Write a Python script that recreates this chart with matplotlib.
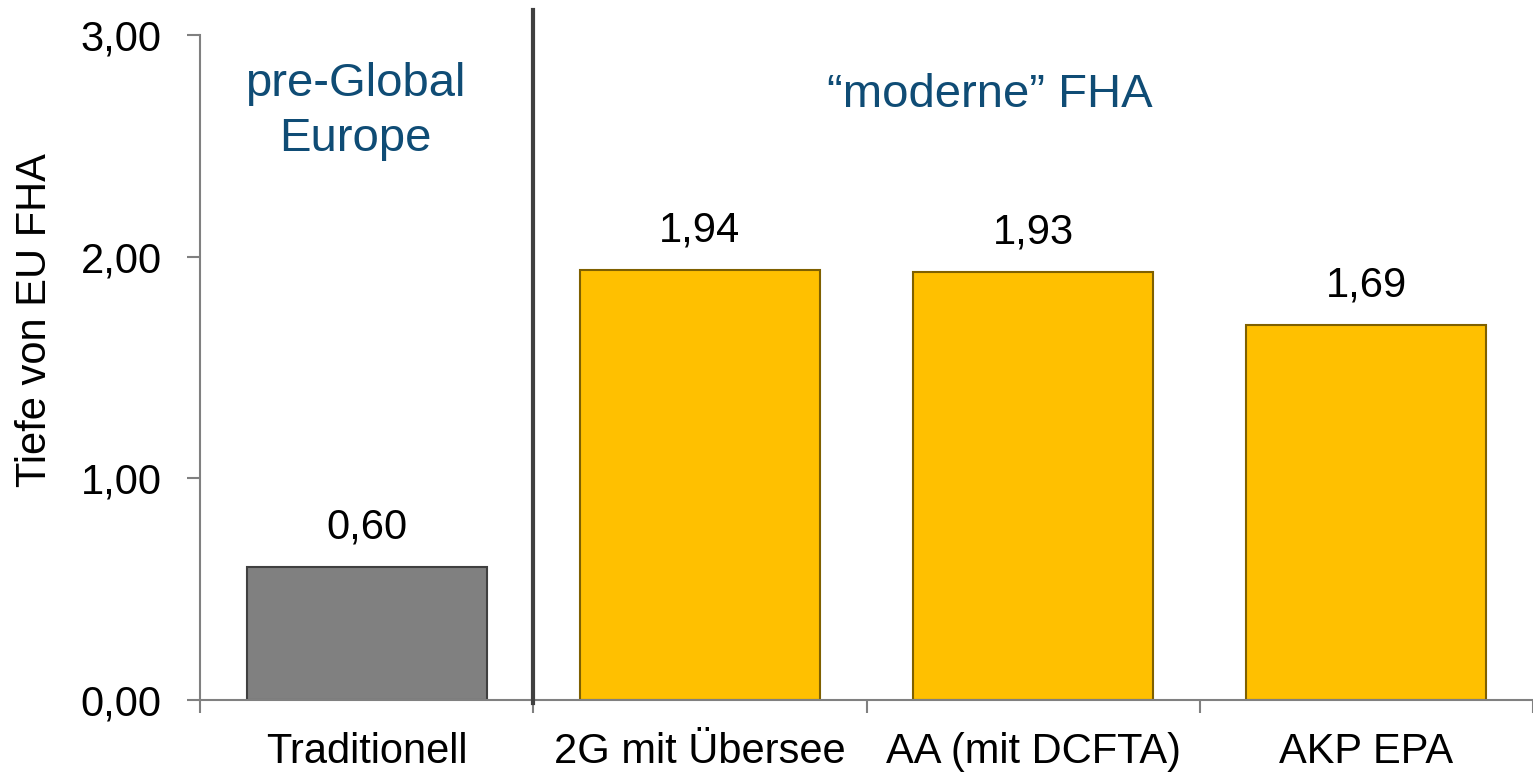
import matplotlib
matplotlib.use("Agg")
import matplotlib.pyplot as plt
from matplotlib.ticker import FuncFormatter, FixedLocator

plt.rcParams['font.family'] = ['Liberation Sans', 'DejaVu Sans']

categories = ['Traditionell', '2G mit Übersee', 'AA (mit DCFTA)', 'AKP EPA']
values = [0.60, 1.94, 1.93, 1.69]
colors = ['#808080', '#FFC000', '#FFC000', '#FFC000']
edges = ['#404040', '#7F6000', '#7F6000', '#7F6000']

fig = plt.figure(figsize=(15.33, 7.72), dpi=100)
ax = fig.add_axes([0.1305, 0.0933, 0.8695, 0.8614])

x = range(len(categories))
bars = ax.bar(x, values, width=0.72, color=colors, edgecolor=edges, linewidth=1.5, zorder=2)

for b, v in zip(bars, values):
    ax.annotate(f"{v:.2f}".replace('.', ','), (b.get_x() + b.get_width() / 2, v),
                xytext=(0, 14), textcoords='offset points', ha='center', va='bottom',
                fontsize=30)

ax.set_xlim(-0.5, 3.5)
ax.set_ylim(0, 3)
ax.set_yticks([0, 1, 2, 3])
ax.yaxis.set_major_formatter(FuncFormatter(lambda v, p: f"{v:.2f}".replace('.', ',')))
ax.set_xticks(list(x))
ax.set_xticklabels(categories)
ax.xaxis.set_minor_locator(FixedLocator([-0.5, 0.5, 1.5, 2.5, 3.5]))
ax.tick_params(axis='x', which='major', length=0, pad=23, labelsize=30)
ax.tick_params(axis='x', which='minor', length=9, width=1.5, color='#808080')
ax.tick_params(axis='y', length=9.5, width=1.5, color='#808080', labelsize=30, pad=18)

for s in ['top', 'right']:
    ax.spines[s].set_visible(False)
for s in ['left', 'bottom']:
    ax.spines[s].set_color('#808080')
    ax.spines[s].set_linewidth(1.5)

# divider between groups
ax.axvline(0.5, ymin=-0.005, ymax=1.038, color='#404040', linewidth=3, clip_on=False, zorder=3)

ax.text(-0.035, 2.655, 'pre-Global\nEurope', ha='center', va='center', fontsize=34,
        color='#0F4C75', linespacing=1.3)
ax.text(1.87, 2.73, '\u201cmoderne\u201d FHA', ha='center', va='center', fontsize=34,
        color='#0F4C75')

fig.text(0.023, 0.585, 'Tiefe von EU FHA', rotation=90, ha='center', va='center', fontsize=30)

fig.savefig('out.png', dpi=100)
